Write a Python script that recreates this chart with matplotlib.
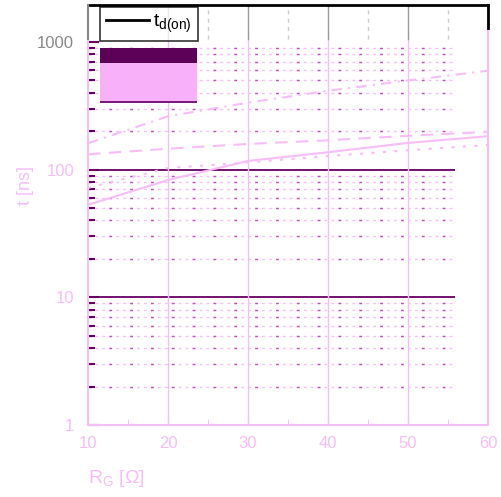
import numpy as np
import matplotlib
matplotlib.use("Agg")
import matplotlib.pyplot as plt
from matplotlib.patches import Rectangle
from matplotlib.lines import Line2D

# gate resistance [ohm] vs switching times [ns]
rg = [10, 20, 30, 40, 50, 60]
t_solid = [53, 83, 117, 137, 162, 183]
t_dashed = [132, 146, 159, 170, 184, 198]
t_dashdot = [161, 262, 335, 415, 500, 596]
t_dotted = [72, 103, 114, 128, 142, 156]

x_ticks = [10, 20, 30, 40, 50, 60]
y_ticks = [1, 10, 100, 1000]
y_ticklabels = ["1", "10", "100", "1000"]

PINK = "#f7bdf7"
DARK = "#660066"
MID = "#c050c0"

plt.rcParams["font.family"] = ["Liberation Sans", "DejaVu Sans"]

fig = plt.figure(figsize=(5.02, 4.97), dpi=100)
ax = fig.add_axes([88 / 502, 72 / 497, 400 / 502, 420 / 497])
ax.set_yscale("log")
ax.set_xlim(10, 60)
ax.set_ylim(1, 1950)

# grid, drawn by hand so the odd partial lengths can be kept
minor_y = [m * d for d in (1, 10, 100) for m in range(2, 10)]
ax.hlines(minor_y, 10, 55.9, colors=PINK, lw=1, linestyles=(0, (2, 3)), zorder=1)
ax.hlines(minor_y, 10, 55.9, colors=MID, lw=1, linestyles=(0, (2, 13)), zorder=1)
ax.hlines([10, 100], 10, 55.9, colors=DARK, lw=1.3, zorder=1)
for x in [20, 30, 40, 50]:
    ax.axvline(x, ymax=0.92, color=PINK, lw=1, zorder=1)
    ax.axvline(x, ymin=0.92, color="#999999", lw=1, zorder=1)
for x in [25, 35, 45, 55]:
    ax.axvline(x, ymin=0.92, color="#cccccc", lw=1, ls=(0, (3, 3)), zorder=1)

ax.plot(rg, t_solid, color=PINK, lw=1.5, zorder=3)
ax.plot(rg, t_dashed, color=PINK, lw=1.5, ls=(0, (6, 4)), zorder=3)
ax.plot(rg, t_dashdot, color=PINK, lw=1.5, ls=(0, (5, 3, 1, 3)), zorder=3)
ax.plot(rg, t_dotted, color=PINK, lw=1.5, ls=(0, (1.5, 4)), zorder=3)

for side in ["left", "bottom", "right"]:
    ax.spines[side].set_color(PINK)
    ax.spines[side].set_linewidth(1.5)
ax.spines["top"].set_color("black")
ax.spines["top"].set_linewidth(2)
# top strip of the frame is grey/black in the reference
ax.plot([0, 0], [0.92, 1], transform=ax.transAxes, color="#888888", lw=1.5,
        clip_on=False, zorder=5)
ax.plot([1, 1], [0.945, 1], transform=ax.transAxes, color="black", lw=2,
        clip_on=False, zorder=5)

ax.set_xticks(x_ticks)
ax.set_xticks([15, 25, 35, 45, 55], minor=True)
ax.set_yticks(y_ticks)
ax.set_yticklabels(y_ticklabels)
ax.set_yticks(minor_y, minor=True)
ax.yaxis.set_minor_formatter(plt.NullFormatter())
ax.tick_params(axis="x", which="major", direction="in", length=8, color=PINK,
               labelcolor=PINK, labelsize=12, pad=8)
ax.tick_params(axis="x", which="minor", direction="in", length=4, color=PINK)
ax.tick_params(axis="y", which="major", direction="in", length=8, width=1.5,
               color=DARK, labelcolor=PINK, labelsize=12, pad=10)
ax.tick_params(axis="y", which="minor", direction="in", length=5, width=1.5,
               color=DARK)
ax.get_yticklabels()[-1].set_color("#888888")

ax.set_xlabel(r"R$_{\mathregular{G}}$ [Ω]", color=PINK, fontsize=14,
              loc="left", labelpad=12)
ax.set_ylabel("t [ns]", color=PINK, fontsize=13)
ax.yaxis.set_label_coords(-0.135, 0.57)

# corrupted legend block under the legend
fig.add_artist(Rectangle((100 / 502, 1 - 103 / 497), 97 / 502, 55 / 497,
                         transform=fig.transFigure, facecolor="#f8b0f8",
                         edgecolor="none", zorder=4))
fig.add_artist(Rectangle((100 / 502, 1 - 63 / 497), 97 / 502, 15 / 497,
                         transform=fig.transFigure, facecolor="#5c0058",
                         edgecolor="none", zorder=4))
fig.add_artist(Rectangle((100 / 502, 1 - 103 / 497), 97 / 502, 2 / 497,
                         transform=fig.transFigure, facecolor="#7a1a7a",
                         edgecolor="none", zorder=4))

handle = Line2D([], [], color="black", lw=2)
leg = ax.legend([handle], [r"t$_{\mathregular{d(on)}}$"], loc="upper left",
                bbox_to_anchor=(12 / 400, 0.995), fontsize=14, frameon=True,
                fancybox=False, borderaxespad=0, handlelength=2.2,
                handletextpad=0.25, borderpad=0.3)
leg.get_frame().set_edgecolor("black")
leg.get_frame().set_linewidth(1.2)

fig.savefig("out.png", dpi=100)
